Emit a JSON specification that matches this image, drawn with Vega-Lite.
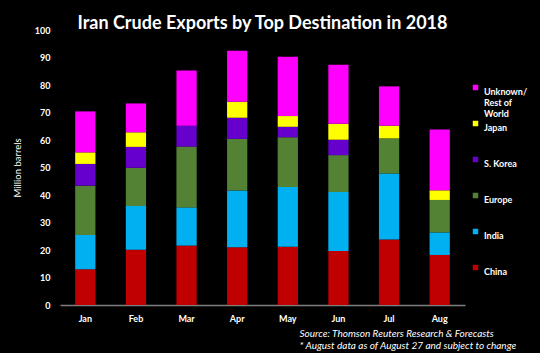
{
  "$schema": "https://vega.github.io/schema/vega-lite/v6.json",
  "autosize": {"type": "none"},
  "width": 405,
  "height": 275,
  "padding": {"left": 60, "top": 30, "right": 75, "bottom": 48},
  "background": "black",
  "title": {
    "text": "Iran Crude Exports by Top Destination in 2018",
    "color": "white",
    "font": "Lato",
    "fontSize": 18,
    "fontWeight": "bold",
    "anchor": "middle",
    "offset": 0,
    "baseline": "middle",
    "dy": 16
  },
  "data": {
    "values": [
      {"month": "Jan", "dest": "China", "value": 13.0},
      {"month": "Jan", "dest": "India", "value": 12.5},
      {"month": "Jan", "dest": "Europe", "value": 17.9},
      {"month": "Jan", "dest": "S. Korea", "value": 7.9},
      {"month": "Jan", "dest": "Japan", "value": 4.2},
      {"month": "Jan", "dest": "Unknown/Rest of World", "value": 14.9},
      {"month": "Feb", "dest": "China", "value": 20.1},
      {"month": "Feb", "dest": "India", "value": 15.9},
      {"month": "Feb", "dest": "Europe", "value": 13.9},
      {"month": "Feb", "dest": "S. Korea", "value": 7.6},
      {"month": "Feb", "dest": "Japan", "value": 5.3},
      {"month": "Feb", "dest": "Unknown/Rest of World", "value": 10.5},
      {"month": "Mar", "dest": "China", "value": 21.6},
      {"month": "Mar", "dest": "India", "value": 13.9},
      {"month": "Mar", "dest": "Europe", "value": 22.1},
      {"month": "Mar", "dest": "S. Korea", "value": 7.6},
      {"month": "Mar", "dest": "Japan", "value": 0},
      {"month": "Mar", "dest": "Unknown/Rest of World", "value": 20.1},
      {"month": "Apr", "dest": "China", "value": 21.0},
      {"month": "Apr", "dest": "India", "value": 20.6},
      {"month": "Apr", "dest": "Europe", "value": 18.8},
      {"month": "Apr", "dest": "S. Korea", "value": 7.7},
      {"month": "Apr", "dest": "Japan", "value": 5.8},
      {"month": "Apr", "dest": "Unknown/Rest of World", "value": 18.6},
      {"month": "May", "dest": "China", "value": 21.2},
      {"month": "May", "dest": "India", "value": 21.7},
      {"month": "May", "dest": "Europe", "value": 18.1},
      {"month": "May", "dest": "S. Korea", "value": 3.8},
      {"month": "May", "dest": "Japan", "value": 3.9},
      {"month": "May", "dest": "Unknown/Rest of World", "value": 21.6},
      {"month": "Jun", "dest": "China", "value": 19.6},
      {"month": "Jun", "dest": "India", "value": 21.5},
      {"month": "Jun", "dest": "Europe", "value": 13.4},
      {"month": "Jun", "dest": "S. Korea", "value": 5.6},
      {"month": "Jun", "dest": "Japan", "value": 5.8},
      {"month": "Jun", "dest": "Unknown/Rest of World", "value": 21.5},
      {"month": "Jul", "dest": "China", "value": 23.8},
      {"month": "Jul", "dest": "India", "value": 24.0},
      {"month": "Jul", "dest": "Europe", "value": 12.8},
      {"month": "Jul", "dest": "S. Korea", "value": 0},
      {"month": "Jul", "dest": "Japan", "value": 4.6},
      {"month": "Jul", "dest": "Unknown/Rest of World", "value": 14.3},
      {"month": "Aug", "dest": "China", "value": 18.2},
      {"month": "Aug", "dest": "India", "value": 8.2},
      {"month": "Aug", "dest": "Europe", "value": 11.8},
      {"month": "Aug", "dest": "S. Korea", "value": 0},
      {"month": "Aug", "dest": "Japan", "value": 3.5},
      {"month": "Aug", "dest": "Unknown/Rest of World", "value": 22.1}
    ]
  },
  "transform": [
    {"calculate": "indexof(['China', 'India', 'Europe', 'S. Korea', 'Japan', 'Unknown/Rest of World'], datum.dest)", "as": "stackOrder"}
  ],
  "mark": {"type": "bar"},
  "encoding": {
    "x": {
      "field": "month",
      "type": "nominal",
      "sort": ["Jan", "Feb", "Mar", "Apr", "May", "Jun", "Jul", "Aug"],
      "scale": {"paddingInner": 0.6, "paddingOuter": 0.3},
      "axis": {
        "labelAngle": 0,
        "labelColor": "white",
        "labelFont": "Lato",
        "labelFontWeight": "bold",
        "labelFontSize": 9,
        "labelPadding": 9,
        "ticks": false,
        "domainColor": "#7f7f7f",
        "domainWidth": 1.5,
        "title": ["Source: Thomson Reuters Research & Forecasts", "* August data as of August 27 and subject to change"],
        "titleColor": "white",
        "titleFont": "Lato",
        "titleFontStyle": "italic",
        "titleFontWeight": "normal",
        "titleFontSize": 10,
        "titleLineHeight": 12,
        "titleAlign": "left",
        "titleBaseline": "middle",
        "titleX": 239,
        "titleY": 28
      }
    },
    "y": {
      "field": "value",
      "type": "quantitative",
      "stack": "zero",
      "scale": {"domain": [0, 100]},
      "axis": {
        "values": [0, 10, 20, 30, 40, 50, 60, 70, 80, 90, 100],
        "grid": false,
        "domain": false,
        "ticks": false,
        "labelColor": "white",
        "labelFont": "Lato",
        "labelFontWeight": "bold",
        "labelFontSize": 9,
        "labelPadding": 10,
        "title": "Million barrels",
        "titleColor": "white",
        "titleFont": "Lato",
        "titleFontWeight": "normal",
        "titleFontSize": 9.5,
        "titlePadding": 12
      }
    },
    "order": {"field": "stackOrder", "type": "quantitative", "sort": "ascending"},
    "color": {
      "field": "dest",
      "type": "nominal",
      "scale": {
        "domain": ["China", "India", "Europe", "S. Korea", "Japan", "Unknown/Rest of World"],
        "range": ["#C00000", "#00B0F0", "#548235", "#6600CC", "#FFFF00", "#FF00FF"]
      },
      "legend": {
        "values": ["Unknown/Rest of World", "Japan", "S. Korea", "Europe", "India", "China"],
        "title": null,
        "orient": "none",
        "legendX": 411,
        "legendY": 53,
        "symbolType": "square",
        "symbolSize": 30,
        "symbolStrokeWidth": 0,
        "labelColor": "white",
        "labelFont": "Lato",
        "labelFontWeight": "bold",
        "labelFontSize": 9,
        "labelBaseline": "top",
        "labelOffset": 4,
        "gridAlign": "all",
        "rowPadding": 0,
        "labelExpr": "datum.label == 'Unknown/Rest of World' ? ['Unknown/', 'Rest of', 'World'] : datum.label"
      }
    }
  },
  "config": {"view": {"stroke": null}}
}
